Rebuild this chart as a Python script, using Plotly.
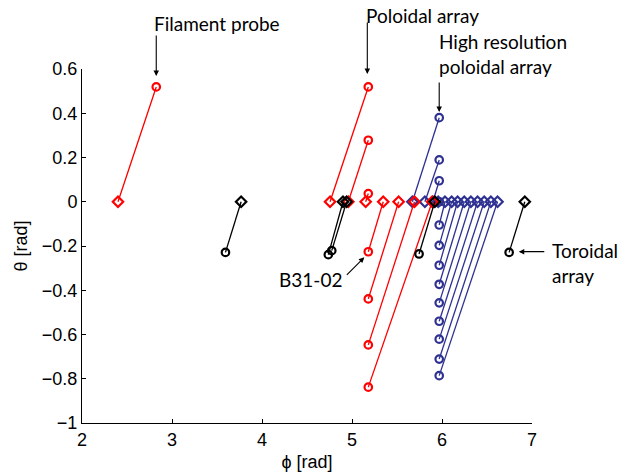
import plotly.graph_objects as go

# Red: filament probe + poloidal array (diamond at theta=0 -> circle)
red_phi_d = [2.40, 4.756, 4.959, 5.152, 5.347, 5.518, 5.694, 5.891]
red_phi_c = [2.825, 5.181, 5.181, 5.181, 5.181, 5.181, 5.181, 5.181]
red_theta_c = [0.519, 0.519, 0.278, 0.037, -0.226, -0.439, -0.647, -0.838]

# Blue: high resolution poloidal array
blue_phi_d = [5.671, 5.810, 5.899, 5.958, 6.033, 6.107, 6.173, 6.247, 6.321, 6.395, 6.469, 6.543, 6.617]
blue_phi_c = [5.969] * 13
blue_theta_c = [0.380, 0.189, 0.095, 0.0, -0.105, -0.197, -0.287, -0.373, -0.457, -0.540, -0.621, -0.711, -0.786]

# Black: toroidal array and others
black_phi_d = [3.768, 4.90, 4.94, 5.92, 6.92]
black_phi_c = [3.594, 4.737, 4.775, 5.745, 6.746]
black_theta_c = [-0.229, -0.239, -0.221, -0.236, -0.229]

RED = "#ff0000"
BLUE = "rgb(46,49,146)"
BLACK = "#000000"

X0, X1, Y0, Y1 = 2.0, 7.0, -1.0, 0.6

fig = go.Figure()


def add_group(phi_d, phi_c, theta_c, color):
    lx, ly = [], []
    for a, b, t in zip(phi_d, phi_c, theta_c):
        lx += [a, b, None]
        ly += [0.0, t, None]
    fig.add_trace(go.Scatter(x=lx, y=ly, mode="lines",
                             line=dict(color=color, width=1.3),
                             hoverinfo="skip", showlegend=False))
    fig.add_trace(go.Scatter(x=phi_d, y=[0.0] * len(phi_d), mode="markers",
                             marker=dict(symbol="diamond-open", size=8, color=color,
                                         line=dict(color=color, width=2.2)),
                             showlegend=False))
    fig.add_trace(go.Scatter(x=phi_c, y=theta_c, mode="markers",
                             marker=dict(symbol="circle-open", size=7.5, color=color,
                                         line=dict(color=color, width=2.2)),
                             showlegend=False))


add_group(blue_phi_d, blue_phi_c, blue_theta_c, BLUE)
add_group(red_phi_d, red_phi_c, red_theta_c, RED)
add_group(black_phi_d, black_phi_c, black_theta_c, BLACK)

ann_font = dict(family="Lato, Open Sans, sans-serif", size=19, color="black")


def px(x):
    return (x - X0) / (X1 - X0)


def py(y):
    return (y - Y0) / (Y1 - Y0)


texts = [
    ("Filament probe", 2.793, 0.807, "left"),
    ("Poloidal array", 5.144, 0.843, "left"),
    ("High resolution", 5.951, 0.726, "left"),
    ("poloidal array", 5.951, 0.613, "left"),
    ("B31-02", 4.900, -0.350, "right"),
    ("Toroidal", 7.216, -0.221, "left"),
    ("array", 7.216, -0.334, "left"),
]
for t, x, y, xa in texts:
    fig.add_annotation(x=px(x), y=py(y), xref="paper", yref="paper", text=t,
                       showarrow=False, xanchor=xa, yanchor="middle",
                       borderpad=0, font=ann_font)

arrows = [
    (2.825, 0.568, 0, -42),
    (5.170, 0.577, 0, -53),
    (5.969, 0.406, 0, -31),
    (5.137, -0.251, -19, 19),
    (6.853, -0.2255, 27, 0),
]
for x, y, ax, ay in arrows:
    fig.add_annotation(x=x, y=y, xref="x", yref="y", ax=ax, ay=ay, text="",
                       showarrow=True, arrowhead=2, arrowsize=1.0,
                       arrowwidth=1.1, arrowcolor="black", standoff=0,
                       startstandoff=0)

tick_font = dict(family="Liberation Sans, Arial, sans-serif", size=18, color="black")

fig.update_layout(
    width=621, height=476,
    margin=dict(l=82, r=89, t=69, b=53),
    paper_bgcolor="white", plot_bgcolor="white",
    showlegend=False,
    xaxis=dict(range=[X0, X1], tickvals=[2, 3, 4, 5, 6, 7],
               showgrid=False, zeroline=False, showline=True, automargin=False,
               linecolor="black", linewidth=1, ticks="inside", ticklen=4,
               tickcolor="black", tickfont=tick_font,
               title=dict(text="ϕ [rad]", font=tick_font, standoff=6)),
    yaxis=dict(range=[Y0, Y1], tickvals=[-1, -0.8, -0.6, -0.4, -0.2, 0, 0.2, 0.4, 0.6],
               ticktext=["\u22121", "\u22120.8", "\u22120.6", "\u22120.4", "\u22120.2", "0", "0.2", "0.4", "0.6"],
               showgrid=False, zeroline=False, showline=True, automargin=False,
               linecolor="black", linewidth=1, ticks="inside", ticklen=4,
               tickcolor="black", tickfont=tick_font,
               title=dict(text="θ [rad]", font=tick_font, standoff=9)),
)

fig.write_html("out.html",
               config={"displayModeBar": False},
               post_script="document.body.style.margin='0';document.body.style.overflow='hidden';")
